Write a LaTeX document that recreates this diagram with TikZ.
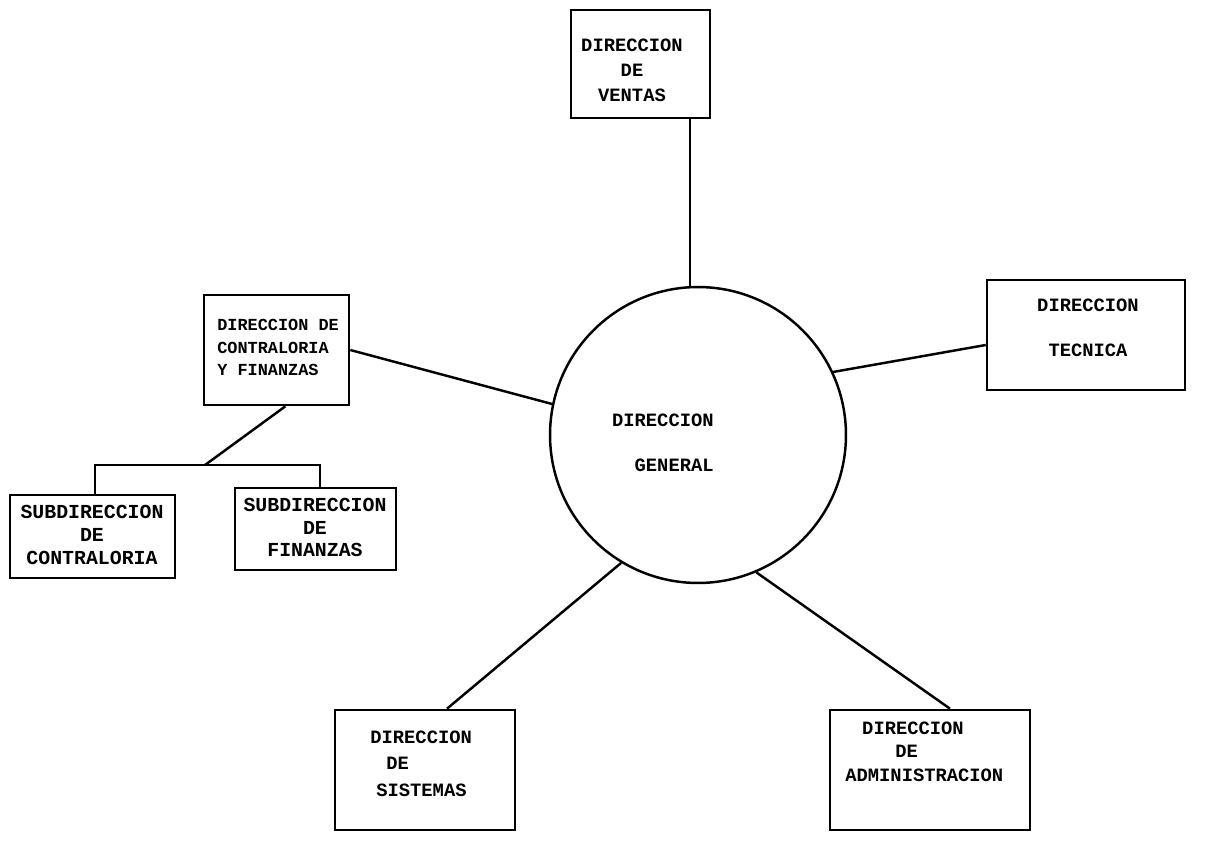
\documentclass[tikz,border=0pt]{standalone}
\usepackage{fontspec}
\setmonofont{Liberation Mono}
\usetikzlibrary{calc}
\tikzset{
  unitbox/.style={draw, line width=1.5pt, inner sep=0pt},
  link/.style={line width=1.4pt},
  txt/.style={inner sep=0pt, align=center,
    font=\ttfamily\bfseries\fontsize{10.7}{#1}\selectfont},
  txt/.default=14.2pt,
  subtxt/.style={inner sep=0pt, align=center,
    font=\ttfamily\bfseries\fontsize{11.3}{13pt}\selectfont}
}
\begin{document}
\begin{tikzpicture}[x=0.02cm,y=-0.02cm]
\useasboundingbox (0,0) rectangle (1225,846);

% top: sales
\node[unitbox, minimum width=2.78cm, minimum height=2.16cm] (ventas) at (640.5,64) {};
\node[txt] (ventasT) at (632,70) {DIRECCION\\DE\\VENTAS};

% centre: general management
\node[draw, circle, line width=1.4pt, inner sep=0pt,
      minimum size=5.92cm] (general) at (698,435) {};
\node[txt=25.5pt, align=right, anchor=east] (generalT) at (714,442.5) {DIRECCION\\GENERAL};

% right: technical
\node[unitbox, minimum width=3.96cm, minimum height=2.2cm] (tecnica) at (1086,335) {};
\node[txt=25.5pt] (tecnicaT) at (1088,327.5) {DIRECCION\\TECNICA};

% left: comptroller and finance
\node[unitbox, minimum width=2.9cm, minimum height=2.2cm] (contra) at (276.5,350) {};
\node[txt, font=\ttfamily\bfseries\fontsize{9.6}{12.8pt}\selectfont, align=left,
      anchor=west] (contraT) at (217,347.5)
  {DIRECCION DE\\CONTRALORIA\\Y FINANZAS};

% sub-units
\node[unitbox, minimum width=3.3cm, minimum height=1.66cm] (subcon) at (92.5,536.5) {};
\node[subtxt] (subconT) at (92,535) {SUBDIRECCION\\DE\\CONTRALORIA};
\node[unitbox, minimum width=3.22cm, minimum height=1.64cm] (subfin) at (315.5,529) {};
\node[subtxt] (subfinT) at (315,527.5) {SUBDIRECCION\\DE\\FINANZAS};

% bottom: systems and administration
\node[unitbox, minimum width=3.6cm, minimum height=2.4cm] (sistemas) at (425,770) {};
\node[txt=15pt, align=left, anchor=west] (sistemasT) at (370,763.5)
  {DIRECCION\\\hspace*{9.1pt}DE\\\hspace*{3.4pt}SISTEMAS};
\node[unitbox, minimum width=4.0cm, minimum height=2.4cm] (admin) at (930,770) {};
\node[txt=13.3pt, align=left, anchor=west] (adminT) at (845,751.5)
  {\hspace*{9.6pt}DIRECCION\\\hspace*{28.4pt}DE\\ADMINISTRACION};

% connectors from the centre
\draw[link] (general.93) -- (general.93 |- ventas.south);
\draw[link] (contra.east) -- (general.168.5);
\draw[link] (general.25.2) -- ($(tecnica.west)+(0,10)$);
\draw[link] (general.239.4) -- ($(sistemas.north)+(22,0)$);
\draw[link] (general.293.4) -- ($(admin.north)+(20,0)$);

% branch under comptroller
\coordinate (fork) at (205,465);
\draw[link] ($(contra.south west)!0.56!(contra.south east)$) -- (fork);
\draw[link] ($(subcon.north)+(2.5,0)$) |- (fork) -| ($(subfin.north)+(4.5,0)$);
\end{tikzpicture}
\end{document}
